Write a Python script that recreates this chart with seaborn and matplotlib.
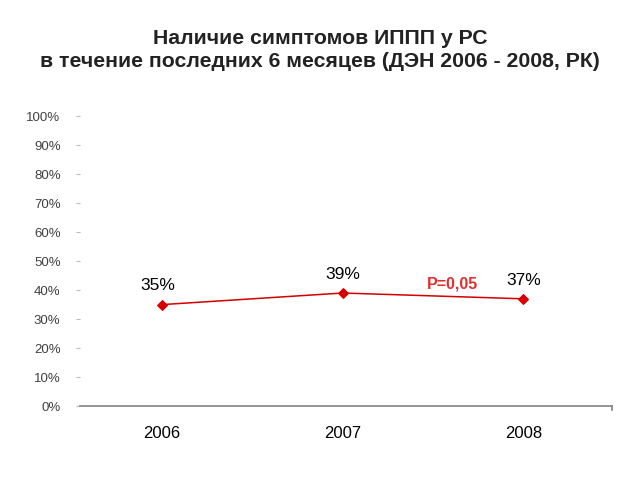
import matplotlib
matplotlib.use("Agg")
import matplotlib.pyplot as plt
import seaborn as sns
import pandas as pd

years = ["2006", "2007", "2008"]
values = [35, 39, 37]
labels = ["35%", "39%", "37%"]
yticks = [0, 10, 20, 30, 40, 50, 60, 70, 80, 90, 100]

sns.set_theme(style="white")
plt.rcParams["font.family"] = ["Liberation Sans", "DejaVu Sans"]

df = pd.DataFrame({"pos": range(len(years)), "val": [v / 100 for v in values]})

fig = plt.figure(figsize=(6.4, 4.8), dpi=100)
ax = fig.add_axes([0.125, 0.154, 0.831, 0.604])

sns.lineplot(data=df, x="pos", y="val", ax=ax, color="#d60000", marker="D",
             markersize=5, markeredgecolor="#d60000", linewidth=1.1)

ax.set_xlim(-0.454, 2.49)
ax.set_ylim(0, 1)
ax.set_yticks([t / 100 for t in yticks])
ax.set_yticklabels([f"{t}%" for t in yticks], fontsize=9.5, color="#404040")
ax.set_xticks(range(len(years)))
ax.set_xticklabels(years, fontsize=12, color="black")
ax.tick_params(axis="x", length=0, pad=14)
ax.tick_params(axis="y", length=3, width=0.8, color="#bbbbbb", pad=11, left=True)
ax.set_xlabel("")
ax.set_ylabel("")

for s in ["top", "left"]:
    ax.spines[s].set_visible(False)
ax.spines["right"].set_bounds(-0.015, 0)
ax.spines["right"].set_color("#888888")
ax.spines["bottom"].set_color("#888888")

offsets = [(-3, 14), (0, 13.5), (0, 13)]
for i, (v, lab) in enumerate(zip(values, labels)):
    ax.annotate(lab, (i, v / 100), xytext=offsets[i], textcoords="offset points",
                ha="center", va="center", fontsize=12.5, color="black")

ax.annotate("P=0,05", (1.61, 0.42), ha="center", va="center", fontsize=11.5,
            fontweight="bold", color="#e03030")

fig.text(0.5, 0.896, "Наличие симптомов ИППП у РС\nв течение последних 6 месяцев (ДЭН 2006 - 2008, РК)",
         ha="center", va="center", fontsize=15.3, fontweight="bold",
         color="#222222", linespacing=1.3)

fig.savefig("out.png", dpi=100)
